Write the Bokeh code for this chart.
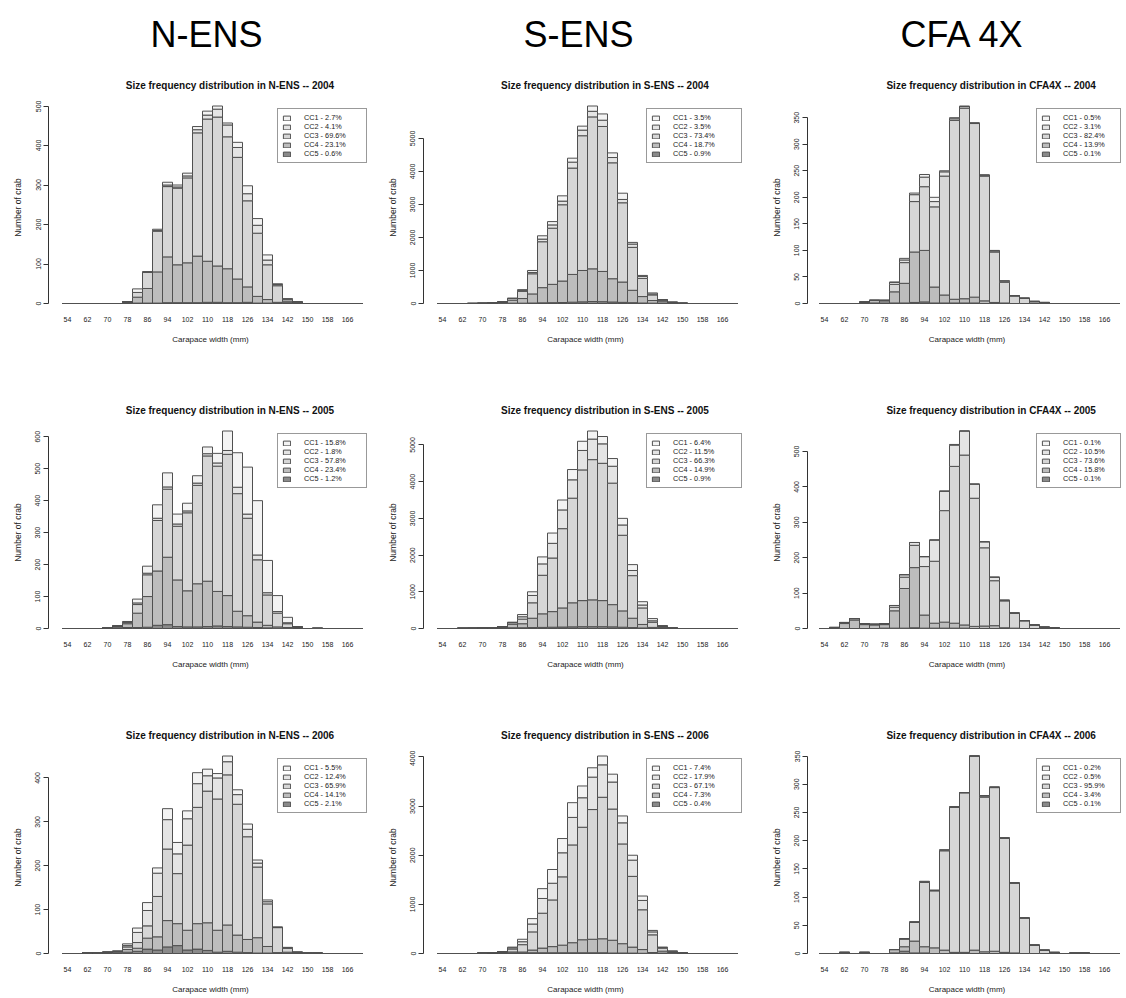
from bokeh.plotting import figure
from bokeh.layouts import column, row
from bokeh.models import Range1d, FixedTicker, Legend, LegendItem, ColumnDataSource
from bokeh.core.properties import value
from bokeh.embed import file_html
from bokeh.resources import INLINE

# ---------------- data ----------------
bins = [54, 58, 62, 66, 70, 74, 78, 82, 86, 90, 94, 98, 102, 106, 110, 114,
        118, 122, 126, 130, 134, 138, 142, 146, 150, 154, 158, 162, 166, 170]
x_tick_labels = ["54", "62", "70", "78", "86", "94", "102", "110", "118",
                 "126", "134", "142", "150", "158", "166"]
classes = ["CC1", "CC2", "CC3", "CC4", "CC5"]
areas = ["N-ENS", "S-ENS", "CFA4X"]
area_headers = ["N-ENS", "S-ENS", "CFA 4X"]
years = ["2004", "2005", "2006"]

# N-ENS 2004
nens04_cc1 = [0,0,0,0,0,0, 0,9,0,3,7,5,7,8,10,8,5,13,20,17,13,2,1,0, 0,0,0,0,0,0]
nens04_cc2 = [0,0,0,0,0,0, 0,0,1,2,4,3,5,8,10,20,30,25,18,20,12,3,0,0, 0,0,0,0,0,0]
nens04_cc3 = [0,0,0,0,0,0, 0,12,41,103,178,194,215,312,360,377,334,308,218,160,88,42,5,3, 0,0,0,0,0,0]
nens04_cc4 = [0,0,0,0,0,0, 2,15,37,79,116,96,101,118,104,92,86,60,39,17,9,3,4,1, 0,0,0,0,0,0]
nens04_cc5 = [0,0,0,0,0,0, 3,1,1,1,2,2,2,2,3,3,2,2,3,1,1,0,2,0, 0,0,0,0,0,0]
nens04_pct = ["2.7", "4.1", "69.6", "23.1", "0.6"]
nens04_yticks = [0, 100, 200, 300, 400, 500]

# S-ENS 2004
sens04_cc1 = [0,0,0, 0,0,0,0,5,30,60,100,100,160,120,120,160,190,140,190,50,30,30,5,0,0, 0,0,0,0,0]
sens04_cc2 = [0,0,0, 0,0,0,0,5,20,40,80,100,110,180,170,170,190,160,100,100,60,30,10,5,0, 0,0,0,0,0]
sens04_cc3 = [0,0,0, 5,5,5,15,50,220,610,1390,1700,2310,3220,4080,4600,4390,3510,2400,1300,550,170,30,15,5, 0,0,0,0,0]
sens04_cc4 = [0,0,0, 0,5,10,25,90,140,275,460,555,650,840,950,990,915,705,615,375,195,80,60,15,5, 0,0,0,0,0]
sens04_cc5 = [0,0,0, 0,0,5,10,10,10,15,20,25,30,40,50,60,55,45,35,25,15,10,15,5,0, 0,0,0,0,0]
sens04_pct = ["3.5", "3.5", "73.4", "18.7", "0.9"]
sens04_yticks = [0, 1000, 2000, 3000, 4000, 5000]

# CFA4X 2004
cfa04_cc1 = [0,0,0,0, 0,0,0,0,3,3,5,8,2,2,1,0,0,1,1,0,0,0,0, 0,0,0,0,0,0,0]
cfa04_cc2 = [0,0,0,0, 0,0,0,4,5,13,18,10,8,3,3,1,2,2,2,1,0,0,0, 0,0,0,0,0,0,0]
cfa04_cc3 = [0,0,0,0, 1,0,1,14,39,95,120,151,224,337,359,327,235,95,39,14,10,3,2, 0,0,0,0,0,0,0]
cfa04_cc4 = [0,0,0,0, 2,5,4,21,37,95,97,30,15,7,8,11,5,2,1,0,0,1,0, 0,0,0,0,0,0,0]
cfa04_cc5 = [0,0,0,0, 0,1,1,1,1,2,3,1,1,1,1,1,0,0,0,0,0,0,0, 0,0,0,0,0,0,0]
cfa04_pct = ["0.5", "3.1", "82.4", "13.9", "0.1"]
cfa04_yticks = [0, 50, 100, 150, 200, 250, 300, 350]

# N-ENS 2005
nens05_cc1 = [0,0,0,0, 0,0,3,12,22,42,44,31,24,23,21,30,61,108,147,170,101,50,17,0,0,1, 0,0,0,0]
nens05_cc2 = [0,0,0,0, 0,0,0,5,5,7,7,7,6,7,7,10,12,20,13,15,7,5,3,0,0,0, 0,0,0,0]
nens05_cc3 = [0,0,0,0, 0,0,4,27,68,158,213,168,244,308,392,392,442,368,305,195,95,43,12,0,0,1, 0,0,0,0]
nens05_cc4 = [0,0,0,0, 1,3,12,45,96,170,211,146,113,135,142,108,97,49,36,17,8,4,2,2,0,0, 0,0,0,0]
nens05_cc5 = [0,0,0,0, 1,5,3,3,4,10,12,6,5,5,6,8,6,5,4,3,2,1,1,3,0,0, 0,0,0,0]
nens05_pct = ["15.8", "1.8", "57.8", "23.4", "1.2"]
nens05_yticks = [0, 100, 200, 300, 400, 500, 600]

# S-ENS 2005
sens05_cc1 = [0,0, 0,0,0,0,0,5,60,100,190,280,270,280,250,220,200,210,180,160,90,60,0,0, 0,0,0,0,0,0]
sens05_cc2 = [0,0, 0,0,0,0,0,5,65,200,310,400,510,500,530,560,530,460,280,140,80,40,5,0, 0,0,0,0,0,0]
sens05_cc3 = [0,0, 0,0,0,0,5,40,125,420,1050,1460,2160,2850,3560,3820,3740,3310,2060,1160,450,140,5,5, 0,0,0,0,0,0]
sens05_cc4 = [0,0, 5,5,10,10,25,100,110,255,370,425,520,655,710,730,710,605,445,255,95,10,30,5, 0,0,0,0,0,0]
sens05_cc5 = [0,0, 3,5,10,10,20,20,20,25,30,35,40,45,50,50,50,45,35,25,15,20,30,5, 0,0,0,0,0,0]
sens05_pct = ["6.4", "11.5", "66.3", "14.9", "0.9"]
sens05_yticks = [0, 1000, 2000, 3000, 4000, 5000]

# CFA4X 2005
cfa05_cc1 = [0, 0,0,0,0,0,0,0,0,0,0,0,0,2,0,0,0,0,0,0,0,0,0,0, 0,0,0,0,0,0]
cfa05_cc2 = [0, 0,0,0,0,0,0,5,7,8,28,60,55,60,68,40,17,10,2,1,0,0,0,0, 0,0,0,0,0,0]
cfa05_cc3 = [0, 0,3,4,3,2,3,10,32,63,137,175,315,443,480,362,221,127,76,42,22,10,4,2, 0,0,0,0,0,0]
cfa05_cc4 = [0, 3,14,24,11,10,10,49,112,170,37,14,17,14,9,6,7,8,2,1,0,0,0,0, 0,0,0,0,0,0]
cfa05_cc5 = [0, 0,0,0,0,0,1,1,1,2,1,1,1,1,1,0,0,0,0,0,0,0,0,0, 0,0,0,0,0,0]
cfa05_pct = ["0.1", "10.5", "73.6", "15.8", "0.1"]
cfa05_yticks = [0, 100, 200, 300, 400, 500]

# N-ENS 2006
nens06_cc1 = [0,0, 0,0,0,0,4,10,18,12,25,26,18,25,15,10,13,11,12,7,4,0,1,0,0,0, 0,0,0,0]
nens06_cc2 = [0,0, 0,0,0,0,3,23,35,53,67,45,60,54,35,48,30,22,17,9,5,1,1,0,0,0, 0,0,0,0]
nens06_cc3 = [0,0, 0,0,0,0,6,13,28,92,163,114,194,265,300,299,342,298,234,161,97,57,9,1,0,0, 0,0,0,0]
nens06_cc4 = [0,0, 1,1,1,2,6,7,25,30,60,50,45,58,63,50,60,39,30,35,15,2,2,1,1,1, 0,0,0,0]
nens06_cc5 = [0,0, 1,1,2,3,3,5,10,8,15,18,8,10,7,3,5,3,2,1,1,0,1,1,0,0, 0,0,0,0]
nens06_pct = ["5.5", "12.4", "65.9", "14.1", "2.1"]
nens06_yticks = [0, 100, 200, 300, 400]

# S-ENS 2006
sens06_cc1 = [0,0,0,0, 0,0,0,13,50,110,200,280,290,300,240,190,180,160,140,100,90,30,7,3,0, 0,0,0,0,0]
sens06_cc2 = [0,0,0,0, 0,0,5,25,60,160,300,340,490,560,600,660,660,550,430,330,190,60,15,7,2, 0,0,0,0,0]
sens06_cc3 = [0,0,0,0, 0,5,15,60,150,370,710,950,1390,1990,2290,2640,2880,2670,2030,1440,810,360,60,20,5, 0,0,0,0,0]
sens06_cc4 = [0,0,0,0, 5,7,10,20,20,55,95,125,155,205,265,275,285,260,190,122,75,15,40,15,5, 0,0,0,0,0]
sens06_cc5 = [0,0,0,0, 5,8,10,12,10,15,15,15,15,15,15,15,15,10,10,8,5,5,8,5,3, 0,0,0,0,0]
sens06_pct = ["7.4", "17.9", "67.1", "7.3", "0.4"]
sens06_yticks = [0, 1000, 2000, 3000, 4000]

# CFA4X 2006
cfa06_cc1 = [0,0, 0,0,0,0,0,0,0,0,1,0,1,0,0,0,1,0,0,0,0,0,0,0,0,0,0, 0,0,0]
cfa06_cc2 = [0,0, 0,0,0,0,0,0,0,1,1,1,1,1,0,0,2,1,1,0,0,0,0,0,0,0,0, 0,0,0]
cfa06_cc3 = [0,0, 0,0,0,0,0,0,14,33,114,101,176,257,283,344,274,290,202,124,63,15,6,1,0,1,0, 0,0,0]
cfa06_cc4 = [0,0, 2,0,2,0,0,6,8,21,11,10,6,2,2,6,3,4,2,1,0,0,0,1,0,0,1, 0,0,0]
cfa06_cc5 = [0,0, 0,0,0,0,0,1,4,1,1,0,0,0,0,0,0,0,0,0,0,0,0,0,0,0,0, 0,0,0]
cfa06_pct = ["0.2", "0.5", "95.9", "3.4", "0.1"]
cfa06_yticks = [0, 50, 100, 150, 200, 250, 300, 350]

panels = [
    [(nens04_cc1, nens04_cc2, nens04_cc3, nens04_cc4, nens04_cc5, nens04_pct, nens04_yticks),
     (sens04_cc1, sens04_cc2, sens04_cc3, sens04_cc4, sens04_cc5, sens04_pct, sens04_yticks),
     (cfa04_cc1, cfa04_cc2, cfa04_cc3, cfa04_cc4, cfa04_cc5, cfa04_pct, cfa04_yticks)],
    [(nens05_cc1, nens05_cc2, nens05_cc3, nens05_cc4, nens05_cc5, nens05_pct, nens05_yticks),
     (sens05_cc1, sens05_cc2, sens05_cc3, sens05_cc4, sens05_cc5, sens05_pct, sens05_yticks),
     (cfa05_cc1, cfa05_cc2, cfa05_cc3, cfa05_cc4, cfa05_cc5, cfa05_pct, cfa05_yticks)],
    [(nens06_cc1, nens06_cc2, nens06_cc3, nens06_cc4, nens06_cc5, nens06_pct, nens06_yticks),
     (sens06_cc1, sens06_cc2, sens06_cc3, sens06_cc4, sens06_cc5, sens06_pct, sens06_yticks),
     (cfa06_cc1, cfa06_cc2, cfa06_cc3, cfa06_cc4, cfa06_cc5, cfa06_pct, cfa06_yticks)],
]

# ---------------- style ----------------
FONT = "Liberation Sans"
fill_colors = {"CC1": "#f3f3f3", "CC2": "#e4e4e4", "CC3": "#d6d6d6",
               "CC4": "#bdbdbd", "CC5": "#8a8a8a"}
edge = "#505050"
legend_label_w = [58, 64, 53]
STRIP_H = 30        # height of the strip that carries each panel title
FRAME_TOP = 3       # plot-region top inside the chart figure
FRAME_BOTTOM = 211
ZERO_Y = 203


def make_panel(r, c):
    cc1, cc2, cc3, cc4, cc5, pct, yticks = panels[r][c]
    last = (r == 2)
    height = (278 if last else 325) - STRIP_H
    width = 376 if c == 2 else 375
    bl = 57 if c == 2 else 48
    br = 0 if c == 2 else 3
    frame_w = width - bl - br
    ppm = 2.5
    gap = 12 if c == 2 else 14
    x0 = bins[0] - 2 - gap / ppm
    x1 = x0 + frame_w / ppm
    totals = [a + b + d + e + f for a, b, d, e, f in zip(cc1, cc2, cc3, cc4, cc5)]
    s = 197.5 / max(totals)
    y0 = -(FRAME_BOTTOM - ZERO_Y) / s
    y1 = (ZERO_Y - FRAME_TOP) / s

    # title strip
    t = figure(width=width, height=STRIP_H, output_backend="svg", toolbar_location=None,
               x_range=Range1d(0, width), y_range=Range1d(0, STRIP_H),
               x_axis_type=None, y_axis_type=None, min_border=0)
    t.outline_line_color = None
    t.xgrid.visible = False
    t.ygrid.visible = False
    t.title.visible = False
    tsrc = ColumnDataSource(dict(
        x=[bl + frame_w / 2], y=[STRIP_H - 15],
        t=[f"Size frequency distribution in {areas[c]} -- {years[r]}"]))
    t.text(x="x", y="y", text="t", source=tsrc, text_font=value(FONT),
           text_font_size="10px", text_font_style="bold", text_align="center",
           text_baseline="middle", text_color="#111111")

    p = figure(width=width, height=height, output_backend="svg",
               toolbar_location=None,
               x_range=Range1d(x0, x1), y_range=Range1d(y0, y1),
               min_border_left=bl, min_border_right=br,
               min_border_top=FRAME_TOP, min_border_bottom=height - FRAME_BOTTOM)
    p.title.visible = False
    p.outline_line_color = None
    p.xgrid.visible = False
    p.ygrid.visible = False

    src = ColumnDataSource(dict(x=bins, CC1=cc1, CC2=cc2, CC3=cc3, CC4=cc4, CC5=cc5))
    stack_order = ["CC5", "CC4", "CC3", "CC2", "CC1"]
    rs = p.vbar_stack(stack_order, x="x", width=4, source=src,
                      fill_color=[fill_colors[k] for k in stack_order],
                      line_color=edge, line_width=1)
    rmap = dict(zip(stack_order, rs))

    items = [LegendItem(label=f"{k} - {pct[i]}%", renderers=[rmap[k]])
             for i, k in enumerate(classes)]
    lg = Legend(items=items, location="top_right", margin=5, padding=4,
                spacing=0, glyph_width=9, glyph_height=6, label_height=9,
                label_width=legend_label_w[c], label_standoff=13,
                label_text_font=FONT, label_text_font_size="7.3px",
                label_text_color="#222222",
                border_line_color="#333333", border_line_width=1,
                background_fill_color="white", background_fill_alpha=1.0)
    p.add_layout(lg)

    xa = p.xaxis[0]
    xa.ticker = FixedTicker(ticks=[float(v) for v in x_tick_labels])
    xa.major_label_overrides = {float(v): v for v in x_tick_labels}
    xa.axis_line_color = None
    xa.major_tick_line_color = None
    xa.minor_tick_line_color = None
    xa.major_tick_out = 0
    xa.major_tick_in = 0
    xa.major_label_standoff = 5
    xa.major_label_text_font = FONT
    xa.major_label_text_font_size = "7px"
    xa.major_label_text_color = "#222222"
    xa.axis_label = "Carapace width (mm)"
    xa.axis_label_text_font = FONT
    xa.axis_label_text_font_size = "8px"
    xa.axis_label_text_font_style = "normal"
    xa.axis_label_text_color = "#222222"
    xa.axis_label_standoff = 10

    ya = p.yaxis[0]
    ya.ticker = FixedTicker(ticks=yticks)
    ya.bounds = (yticks[0], yticks[-1])
    ya.axis_line_color = "#333333"
    ya.major_tick_line_color = "#333333"
    ya.minor_tick_line_color = None
    ya.major_tick_out = 5
    ya.major_tick_in = 0
    ya.major_label_orientation = "vertical"
    ya.major_label_standoff = 3
    ya.major_label_text_font = FONT
    ya.major_label_text_font_size = "7px"
    ya.major_label_text_color = "#222222"
    ya.axis_label = "Number of crab"
    ya.axis_label_text_font = FONT
    ya.axis_label_text_font_size = "8.5px"
    ya.axis_label_text_font_style = "normal"
    ya.axis_label_text_color = "#222222"
    ya.axis_label_standoff = 10
    return column(t, p)


# header with the three area names
header = figure(width=1126, height=70, output_backend="svg", toolbar_location=None,
                x_range=Range1d(0, 1126), y_range=Range1d(0, 70),
                x_axis_type=None, y_axis_type=None, min_border=0)
header.outline_line_color = None
header.xgrid.visible = False
header.ygrid.visible = False
header.title.visible = False
hsrc = ColumnDataSource(dict(x=[206, 578, 962], y=[36, 36, 36], t=area_headers))
header.text(x="x", y="y", text="t", source=hsrc, text_font=value("Liberation Sans"),
            text_font_size="36px", text_align="center", text_baseline="middle",
            text_color="black")

rows = [row(*[make_panel(r, c) for c in range(3)]) for r in range(3)]
layout = column(header, *rows)

open("out.html", "w").write(file_html(layout, INLINE))
